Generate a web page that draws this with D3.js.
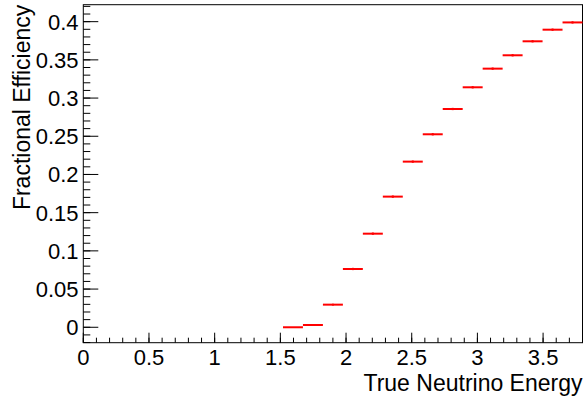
<!DOCTYPE html>
<html><head><meta charset="utf-8">
<script src="https://cdn.jsdelivr.net/npm/d3@7"></script>
<style>body{margin:0;background:#fff}svg{display:block}text{font-family:"Liberation Sans",Arial,sans-serif}</style>
</head><body>
<svg id="c" width="586" height="403"></svg>
<script>
const binLow = [1.52, 1.672, 1.824, 1.976, 2.128, 2.28, 2.432, 2.584, 2.736, 2.888, 3.04, 3.192, 3.344, 3.496, 3.648];
const binWidth = 0.152;
const efficiency = [0, 0.003, 0.0296, 0.0763, 0.1225, 0.171, 0.2168, 0.2526, 0.2857, 0.3141, 0.3385, 0.356, 0.3743, 0.3895, 0.399];
const effError = [0.0003, 0.0006, 0.0012, 0.0015, 0.0015, 0.0015, 0.0015, 0.0015, 0.0015, 0.0015, 0.0015, 0.0015, 0.0015, 0.0015, 0.0015];
const xTicks = [0, 0.5, 1, 1.5, 2, 2.5, 3, 3.5];
const yTicks = [0, 0.05, 0.1, 0.15, 0.2, 0.25, 0.3, 0.35, 0.4];
const xTitle = "True Neutrino Energy";
const yTitle = "Fractional Efficiency";

const L = 83.3, R = 582.5, T = 4.7, B = 342.7;
const x = d3.scaleLinear().domain([0, 3.8]).range([L, R]);
const y = d3.scaleLinear().domain([-0.0202, 0.4222]).range([B, T]);
const svg = d3.select("#c");

// x axis
const xMinor = d3.range(0, 3.8001, 0.1);
svg.append("g").selectAll("line").data(xMinor).join("line")
  .attr("x1", d => x(d)).attr("x2", d => x(d))
  .attr("y1", B).attr("y2", B - 5).attr("stroke", "#000").attr("stroke-width", 1);
svg.append("g").selectAll("line").data(xTicks).join("line")
  .attr("x1", d => x(d)).attr("x2", d => x(d))
  .attr("y1", B).attr("y2", B - 10).attr("stroke", "#000").attr("stroke-width", 1);
svg.append("g").selectAll("text").data(xTicks).join("text")
  .attr("x", d => x(d)).attr("y", 365).attr("text-anchor", "middle")
  .attr("font-size", 22).text(d => d3.format("~g")(d));

// y axis
const yMinor = d3.range(-0.02, 0.4225, 0.01);
svg.append("g").selectAll("line").data(yMinor).join("line")
  .attr("y1", d => y(d)).attr("y2", d => y(d))
  .attr("x1", L).attr("x2", L + 7).attr("stroke", "#000").attr("stroke-width", 1);
svg.append("g").selectAll("line").data(yTicks).join("line")
  .attr("y1", d => y(d)).attr("y2", d => y(d))
  .attr("x1", L).attr("x2", L + 15).attr("stroke", "#000").attr("stroke-width", 1);
svg.append("g").selectAll("text").data(yTicks).join("text")
  .attr("x", 78.5).attr("y", d => y(d)).attr("dy", "0.36em").attr("text-anchor", "end")
  .attr("font-size", 22).text(d => d3.format("~g")(d));

// frame
svg.append("rect").attr("x", L).attr("y", T).attr("width", R - L).attr("height", B - T)
  .attr("fill", "none").attr("stroke", "#000").attr("stroke-width", 1);

// data
const g = svg.append("g");
binLow.forEach((lo, i) => {
  const v = efficiency[i], e = effError[i];
  g.append("line").attr("x1", x(lo)).attr("x2", x(lo + binWidth))
    .attr("y1", y(v)).attr("y2", y(v)).attr("stroke", "#ff0000").attr("stroke-width", 2);
  const c = lo + binWidth / 2;
  g.append("line").attr("x1", x(c)).attr("x2", x(c))
    .attr("y1", y(v - e)).attr("y2", y(v + e)).attr("stroke", "#ff0000").attr("stroke-width", 2);
});

// titles
svg.append("text").attr("x", R).attr("y", 391).attr("text-anchor", "end")
  .attr("font-size", 23).text(xTitle);
svg.append("text").attr("transform", `translate(30,${T}) rotate(-90)`).attr("text-anchor", "end")
  .attr("font-size", 23).text(yTitle);
</script>
</body></html>
